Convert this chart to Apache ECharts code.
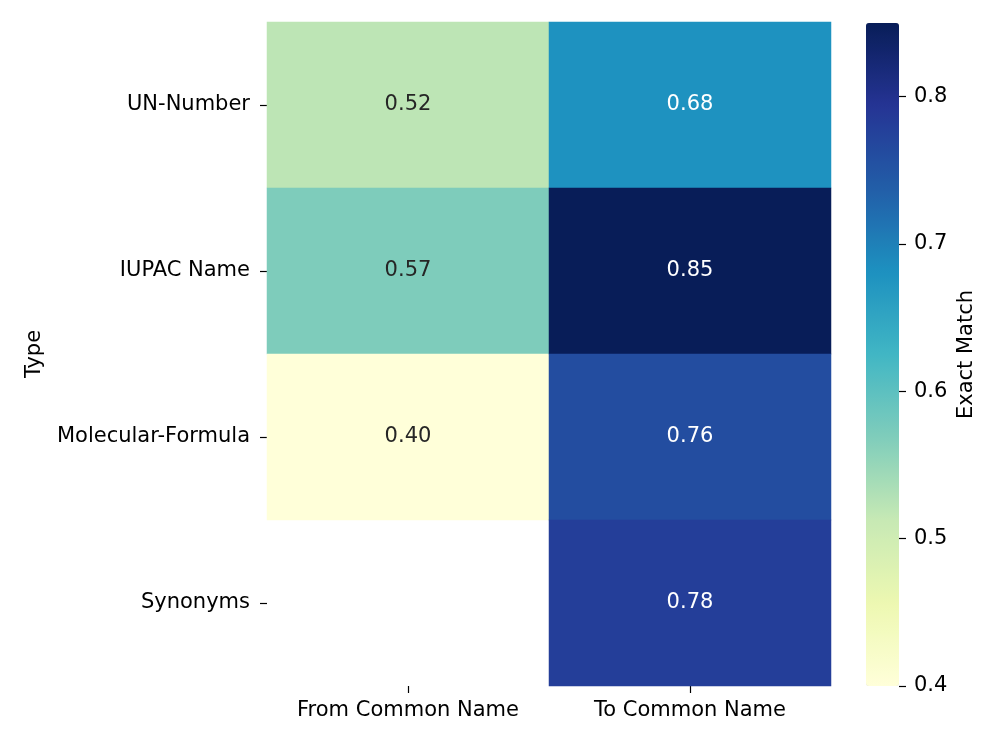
<!DOCTYPE html>
<html>
<head>
<meta charset="utf-8">
<script src="https://cdn.jsdelivr.net/npm/echarts@6/dist/echarts.min.js"></script>
<style>html,body{margin:0;padding:0;background:#fff}#c{width:996px;height:747px}</style>
</head>
<body>
<div id="c"></div>
<script>
var xCategories = ['From Common Name', 'To Common Name'];
var yCategories = ['UN-Number', 'IUPAC Name', 'Molecular-Formula', 'Synonyms'];
var fromCommon = [0.52, 0.57, 0.40, null];
var toCommon = [0.68, 0.85, 0.76, 0.78];
var colorTicks = [0.4, 0.5, 0.6, 0.7, 0.8];
var palette = ['#ffffd9', '#edf8b1', '#c7e9b4', '#7fcdbb', '#41b6c4', '#1d91c0', '#225ea8', '#253494', '#081d58'];

var FONT = 'DejaVu Sans';
var FS = 21;
var data = [];
[fromCommon, toCommon].forEach(function (col, xi) {
  col.forEach(function (v, yi) {
    if (v === null) return;
    data.push({
      value: [xi, yi, v],
      label: { color: v > 0.63 ? '#ffffff' : '#262626' }
    });
  });
});

var chart = echarts.init(document.getElementById('c'), null, { renderer: 'canvas' });
chart.setOption({
  animation: false,
  backgroundColor: '#ffffff',
  grid: [
    { left: 267, top: 22, width: 564, height: 664 },
    { left: 866, top: 23, width: 33, height: 663 }
  ],
  xAxis: [
    {
      type: 'category', gridIndex: 0, data: xCategories,
      axisLine: { show: false },
      axisTick: { show: true, alignWithLabel: true, interval: 0, length: 7, lineStyle: { color: '#000', width: 1.2 } },
      axisLabel: { color: '#000', fontFamily: FONT, fontSize: FS, margin: 14, interval: 0, hideOverlap: false },
      splitLine: { show: false }
    },
    { type: 'category', gridIndex: 1, show: false, data: [''] }
  ],
  yAxis: [
    {
      type: 'category', gridIndex: 0, data: yCategories, inverse: true,
      axisLine: { show: false },
      axisTick: { show: true, alignWithLabel: true, interval: 0, length: 7, lineStyle: { color: '#000', width: 1.2 } },
      axisLabel: { color: '#000', fontFamily: FONT, fontSize: FS, margin: 17, interval: 0, hideOverlap: false },
      name: 'Type', nameLocation: 'middle', nameGap: 222, nameRotate: 90,
      nameTextStyle: { color: '#000', fontFamily: FONT, fontSize: FS },
      splitLine: { show: false }
    },
    {
      type: 'value', gridIndex: 1, position: 'right', min: 0.4, max: 0.85, interval: 0.1,
      axisLine: { show: false, onZero: false },
      axisTick: { show: true, inside: false, length: 7, customValues: colorTicks, lineStyle: { color: '#000', width: 1.2 } },
      axisLabel: {
        color: '#000', fontFamily: FONT, fontSize: FS, margin: 15, customValues: colorTicks,
        formatter: function (v) { return v.toFixed(1); }
      },
      name: 'Exact Match', nameLocation: 'middle', nameGap: 57, nameRotate: 90,
      nameTextStyle: { color: '#000', fontFamily: FONT, fontSize: FS },
      splitLine: { show: false }
    }
  ],
  visualMap: {
    type: 'continuous', seriesIndex: 0, min: 0.4, max: 0.85,
    inRange: { color: palette },
    left: 866, top: 23, padding: 0, itemWidth: 33, itemHeight: 663,
    text: ['', ''], showLabel: false, calculable: false, hoverLink: false,
    orient: 'vertical', z: 1
  },
  series: [{
    type: 'heatmap', xAxisIndex: 0, yAxisIndex: 0, data: data,
    itemStyle: { borderWidth: 0 },
    label: {
      show: true, fontFamily: FONT, fontSize: FS,
      formatter: function (p) { return p.value[2].toFixed(2); }
    },
    emphasis: { disabled: true }
  }]
});
</script>
</body>
</html>
